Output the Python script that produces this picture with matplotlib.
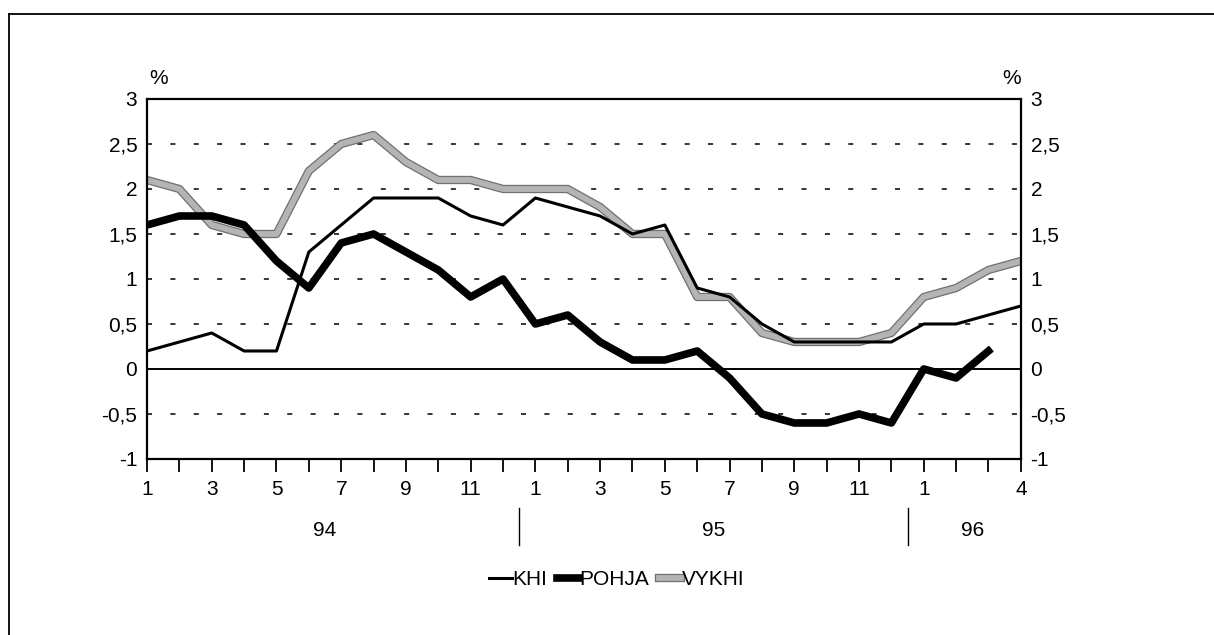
import numpy as np
import matplotlib.pyplot as plt
import matplotlib.patheffects as pe
from matplotlib.transforms import blended_transform_factory

plt.rcParams['font.family'] = ['Liberation Sans', 'DejaVu Sans']

# monthly values, Jan 1994 .. Apr 1996
khi = [0.2, 0.3, 0.4, 0.2, 0.2, 1.3, 1.6, 1.9, 1.9, 1.9, 1.7, 1.6,
       1.9, 1.8, 1.7, 1.5, 1.6, 0.9, 0.8, 0.5, 0.3, 0.3, 0.3, 0.3,
       0.5, 0.5, 0.6, 0.7]
pohja = [1.6, 1.7, 1.7, 1.6, 1.2, 0.9, 1.4, 1.5, 1.3, 1.1, 0.8, 1.0,
         0.5, 0.6, 0.3, 0.1, 0.1, 0.2, -0.1, -0.5, -0.6, -0.6, -0.5, -0.6,
         0.0, -0.1, 0.2]
vykhi = [2.1, 2.0, 1.6, 1.5, 1.5, 2.2, 2.5, 2.6, 2.3, 2.1, 2.1, 2.0,
         2.0, 2.0, 1.8, 1.5, 1.5, 0.8, 0.8, 0.4, 0.3, 0.3, 0.3, 0.4,
         0.8, 0.9, 1.1, 1.2]
month_labels = ['1', '', '3', '', '5', '', '7', '', '9', '', '11', '',
                '1', '', '3', '', '5', '', '7', '', '9', '', '11', '',
                '1', '', '', '4']
years = ['94', '95', '96']
year_spans = [(0, 11), (12, 23), (24, 27)]
y_ticks = [-1, -0.5, 0, 0.5, 1, 1.5, 2, 2.5, 3]

fig = plt.figure(figsize=(12.14, 6.35), dpi=100)
ax = fig.add_axes([0.1211, 0.2772, 0.7198, 0.5669])

x = np.arange(len(khi))
fs = 15

# grid
for v in y_ticks[1:-1]:
    if v == 0:
        ax.axhline(0, color='black', lw=1.4, zorder=1)
    else:
        ax.axhline(v, color='black', lw=1.1, ls=(0, (3.3, 12)), zorder=1)

ax.plot(x, vykhi, color='#b4b4b4', lw=4.2, solid_joinstyle='round', zorder=2,
        path_effects=[pe.Stroke(linewidth=6, foreground='#707070'), pe.Normal()],
        label='VYKHI')
ax.plot(x, khi, color='black', lw=2.2, zorder=3, label='KHI')
ax.plot(np.arange(len(pohja)), pohja, color='black', lw=5.5,
        solid_joinstyle='round', zorder=4, label='POHJA')

ax.set_xlim(0, len(khi) - 1)
ax.set_ylim(-1, 3)
ax.set_yticks(y_ticks)
ylab = [('%g' % v).replace('.', ',') for v in y_ticks]
ax.set_yticklabels(ylab)
ax.tick_params(axis='y', length=0, labelsize=fs, labelright=True, pad=7)
ax.set_xticks(x)
ax.set_xticklabels(month_labels)
ax.tick_params(axis='x', direction='out', length=9, width=1.3, labelsize=fs, pad=6)
for s in ax.spines.values():
    s.set_linewidth(1.6)

ax.text(0.003, 1.03, '%', transform=ax.transAxes, fontsize=fs, ha='left', va='bottom')
ax.text(1.0, 1.03, '%', transform=ax.transAxes, fontsize=fs, ha='right', va='bottom')

tr = blended_transform_factory(ax.transData, ax.transAxes)
for yr, (a, b) in zip(years, year_spans):
    ax.text((a + b) / 2, -0.2, yr, transform=tr, fontsize=fs, ha='center', va='center')
for xs in [11.5, 23.5]:
    ax.plot([xs, xs], [-0.135, -0.24], transform=tr, color='black', lw=1.0, clip_on=False)

h, l = ax.get_legend_handles_labels()
order = [1, 2, 0]
fig.legend([h[i] for i in order], [l[i] for i in order], loc='center',
           bbox_to_anchor=(0.508, 0.087), ncol=3, frameon=False, fontsize=fs,
           handlelength=1.1, handletextpad=0.0, columnspacing=0.45)

# outer frame (right/bottom edges fall outside the picture)
fig.add_artist(plt.Line2D([0.0074, 0.0074], [0, 0.978], color='black', lw=1.3))
fig.add_artist(plt.Line2D([0.0074, 1.0], [0.978, 0.978], color='black', lw=1.3))

fig.savefig('out.png', dpi=100)
